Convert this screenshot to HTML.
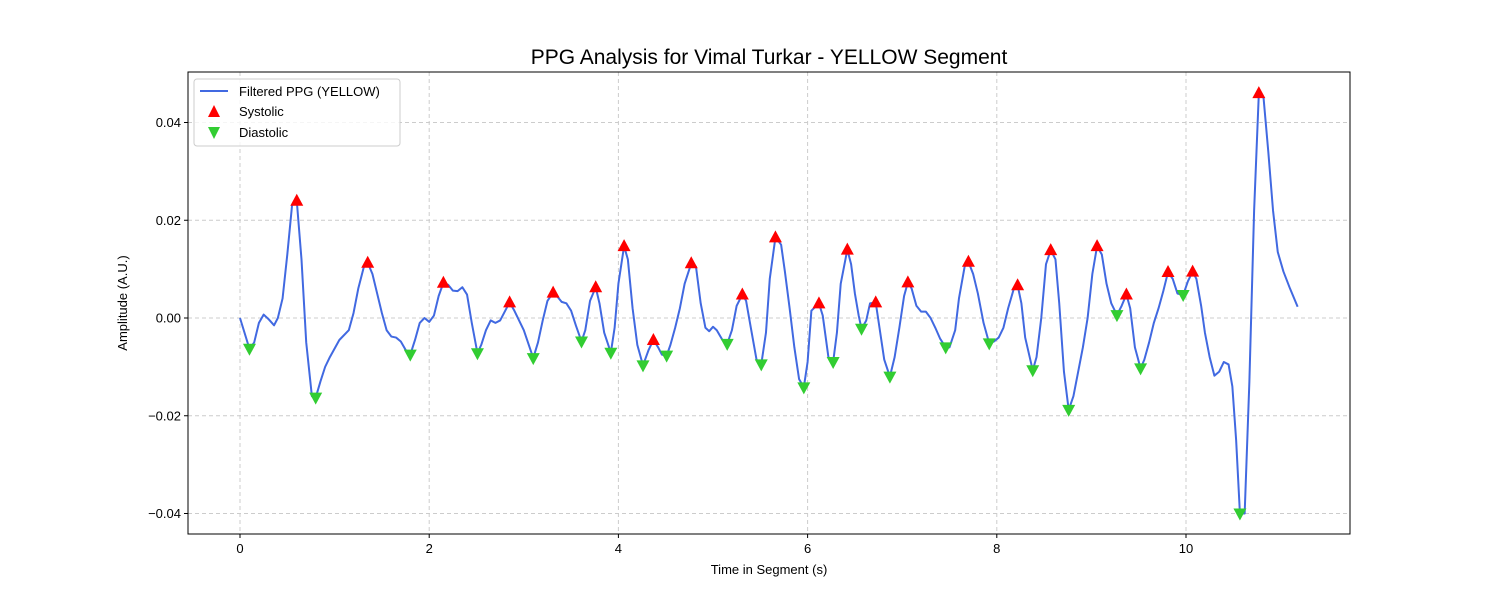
<!DOCTYPE html>
<html><head><meta charset="utf-8"><style>
body{margin:0;background:#fff;}
svg text{font-family:"Liberation Sans","DejaVu Sans",sans-serif;fill:#000;}
</style></head><body>
<svg id="chart" width="1500" height="600" xmlns="http://www.w3.org/2000/svg">
<rect width="1500" height="600" fill="#fff"/>
<text x="769" y="64" font-size="21" text-anchor="middle">PPG Analysis for Vimal Turkar - YELLOW Segment</text>
<g id="grid"></g>
<g id="series"></g>
<rect x="188" y="72" width="1162" height="462" fill="none" stroke="#000" stroke-width="1"/>
<g id="axes"></g>
<text x="769" y="574" font-size="13" text-anchor="middle">Time in Segment (s)</text>
<text transform="translate(127,303) rotate(-90)" font-size="13" text-anchor="middle">Amplitude (A.U.)</text>
<g>
<rect x="194" y="79" width="206" height="67" rx="3" fill="#fff" fill-opacity="0.8" stroke="#ccc"/>
<line x1="200" y1="91" x2="228" y2="91" stroke="#4169e1" stroke-width="2"/>
<text x="239" y="96" font-size="13">Filtered PPG (YELLOW)</text>
<polygon points="214,105 220,117 208,117" fill="red"/>
<text x="239" y="116" font-size="13">Systolic</text>
<polygon points="208,127 220,127 214,139" fill="#32cd32"/>
<text x="239" y="137" font-size="13">Diastolic</text>
</g>
</svg>
<script>
const xTicks=[0,2,4,6,8,10];
const yTicks=[-0.04,-0.02,0.00,0.02,0.04];
const yTickLabels=["−0.04","−0.02","0.00","0.02","0.04"];
const lineT=[0,0.10,0.15,0.2,0.25,0.3,0.36,0.4,0.45,0.5,0.55,0.60,0.65,0.70,0.76,0.80,0.85,0.9,0.95,1.05,1.15,1.2,1.25,1.31,1.35,1.40,1.45,1.5,1.55,1.6,1.65,1.7,1.75,1.80,1.85,1.9,1.95,2.0,2.05,2.1,2.15,2.2,2.25,2.3,2.35,2.4,2.45,2.51,2.55,2.6,2.65,2.7,2.75,2.85,2.9,3.0,3.1,3.15,3.2,3.25,3.31,3.35,3.4,3.45,3.5,3.55,3.61,3.65,3.7,3.76,3.8,3.85,3.92,3.96,4.0,4.06,4.1,4.15,4.2,4.26,4.32,4.37,4.42,4.46,4.51,4.55,4.6,4.65,4.7,4.77,4.82,4.87,4.92,4.96,5.0,5.04,5.1,5.15,5.2,5.25,5.31,5.35,5.4,5.46,5.51,5.56,5.6,5.66,5.72,5.76,5.81,5.86,5.91,5.96,6.0,6.04,6.12,6.16,6.22,6.27,6.31,6.35,6.42,6.46,6.5,6.54,6.57,6.62,6.66,6.72,6.76,6.81,6.87,6.92,6.97,7.02,7.06,7.1,7.15,7.2,7.25,7.3,7.35,7.4,7.46,7.5,7.56,7.6,7.66,7.70,7.75,7.8,7.86,7.92,7.97,8.02,8.07,8.12,8.18,8.22,8.26,8.3,8.38,8.42,8.47,8.52,8.57,8.62,8.66,8.71,8.76,8.81,8.86,8.91,8.96,9.01,9.06,9.11,9.16,9.21,9.27,9.32,9.37,9.41,9.46,9.52,9.56,9.61,9.66,9.71,9.76,9.81,9.86,9.91,9.97,10.02,10.07,10.11,10.16,10.2,10.25,10.3,10.35,10.4,10.45,10.49,10.53,10.57,10.62,10.67,10.72,10.77,10.82,10.87,10.92,10.97,11.03,11.1,11.18];
const lineV=[0,-0.0063,-0.005,-0.001,0.0007,-0.0002,-0.0015,0,0.004,0.013,0.023,0.024,0.012,-0.005,-0.016,-0.0163,-0.013,-0.010,-0.008,-0.0045,-0.0025,0.001,0.006,0.0105,0.0113,0.009,0.005,0.001,-0.0025,-0.0038,-0.004,-0.0048,-0.0065,-0.0075,-0.0045,-0.001,0,-0.0008,0.0005,0.0045,0.0072,0.0068,0.0056,0.0055,0.0063,0.0048,-0.001,-0.0072,-0.0055,-0.0025,-0.0005,-0.001,-0.0005,0.0032,0.0015,-0.0025,-0.0082,-0.005,-0.0005,0.0035,0.0052,0.0045,0.0033,0.0030,0.0015,-0.0015,-0.0048,-0.0025,0.0035,0.0063,0.003,-0.003,-0.0071,-0.002,0.007,0.0147,0.012,0.002,-0.0055,-0.0097,-0.0065,-0.0045,-0.0060,-0.0075,-0.0077,-0.0055,-0.002,0.002,0.007,0.0112,0.0105,0.003,-0.002,-0.0027,-0.0018,-0.0025,-0.0045,-0.0053,-0.0025,0.0025,0.0048,0.0035,-0.002,-0.0085,-0.0095,-0.003,0.008,0.0165,0.015,0.0095,0.002,-0.006,-0.0125,-0.0142,-0.009,0.0015,0.0030,0.0005,-0.008,-0.0090,-0.003,0.007,0.0140,0.011,0.005,0.0005,-0.0022,-0.0005,0.003,0.0032,-0.002,-0.0085,-0.0120,-0.0080,-0.002,0.0045,0.0073,0.006,0.0025,0.0013,0.0013,0,-0.002,-0.0042,-0.0060,-0.0060,-0.0025,0.004,0.0105,0.0115,0.009,0.005,-0.001,-0.0052,-0.0048,-0.004,-0.002,0.002,0.006,0.0067,0.003,-0.004,-0.0107,-0.008,0,0.011,0.0139,0.012,0.003,-0.011,-0.0188,-0.016,-0.011,-0.006,0,0.009,0.0147,0.013,0.007,0.003,0.0006,0.0025,0.0048,0.002,-0.006,-0.0103,-0.0085,-0.005,-0.001,0.002,0.0055,0.0094,0.008,0.005,0.0047,0.0075,0.0095,0.008,0.0025,-0.003,-0.008,-0.0118,-0.0110,-0.009,-0.0095,-0.0140,-0.025,-0.0400,-0.0400,-0.013,0.022,0.0460,0.0450,0.034,0.022,0.0135,0.0095,0.006,0.0023];
const sysT=[0.60,1.35,2.15,2.85,3.31,3.76,4.06,4.37,4.77,5.31,5.66,6.12,6.42,6.72,7.06,7.70,8.22,8.57,9.06,9.37,9.81,10.07,10.77];
const sysV=[0.0240,0.0113,0.0072,0.0032,0.0052,0.0063,0.0147,-0.0045,0.0112,0.0048,0.0165,0.0030,0.0140,0.0032,0.0073,0.0115,0.0067,0.0139,0.0147,0.0048,0.0094,0.0095,0.0460];
const diaT=[0.10,0.80,1.80,2.51,3.10,3.61,3.92,4.26,4.51,5.15,5.51,5.96,6.27,6.57,6.87,7.46,7.92,8.38,8.76,9.27,9.52,9.97,10.57];
const diaV=[-0.0063,-0.0163,-0.0075,-0.0072,-0.0082,-0.0048,-0.0071,-0.0097,-0.0077,-0.0053,-0.0095,-0.0142,-0.0090,-0.0022,-0.0120,-0.0060,-0.0052,-0.0107,-0.0188,0.0006,-0.0103,0.0047,-0.0400];

const NS="http://www.w3.org/2000/svg";
const X=t=>240+t*94.6;
const Y=v=>318-v*4887.5;
function mk(tag,attrs,parent){const e=document.createElementNS(NS,tag);for(const k in attrs)e.setAttribute(k,attrs[k]);parent.appendChild(e);return e;}
const grid=document.getElementById('grid'),axes=document.getElementById('axes'),ser=document.getElementById('series');
xTicks.forEach(t=>{
 const g=mk('line',{x1:X(t),x2:X(t),y1:72,y2:534,stroke:'#ccc','stroke-dasharray':'4,3'},grid);
 
 
 mk('line',{x1:X(t),x2:X(t),y1:534,y2:538,stroke:'#000'},axes);
 const tx=mk('text',{x:X(t),y:553,'font-size':13,'text-anchor':'middle'},axes);tx.textContent=t;
 
 
});
yTicks.forEach((v,i)=>{
 const g=mk('line',{x1:188,x2:1350,y1:Y(v),y2:Y(v),stroke:'#ccc','stroke-dasharray':'4,3'},grid);
 
 
 mk('line',{x1:184,x2:188,y1:Y(v),y2:Y(v),stroke:'#000'},axes);
 const tx=mk('text',{x:181,y:Y(v)+4.5,'font-size':13,'text-anchor':'end'},axes);tx.textContent=yTickLabels[i];
 
 
});
const pl=mk('polyline',{points:lineT.map((t,i)=>X(t)+','+Y(lineV[i])).join(' '),fill:'none',stroke:'#4169e1','stroke-width':2,'stroke-linejoin':'round'},ser);


sysT.forEach((t,i)=>{const x=X(t),y=Y(sysV[i]);
 const p=mk('polygon',{points:`${x},${y-7} ${x+6.5},${y+5} ${x-6.5},${y+5}`,fill:'red'},ser);
 
 });
diaT.forEach((t,i)=>{const x=X(t),y=Y(diaV[i]);
 const p=mk('polygon',{points:`${x-6.5},${y-5} ${x+6.5},${y-5} ${x},${y+7}`,fill:'#32cd32'},ser);
 
 });
</script>
</body></html>
